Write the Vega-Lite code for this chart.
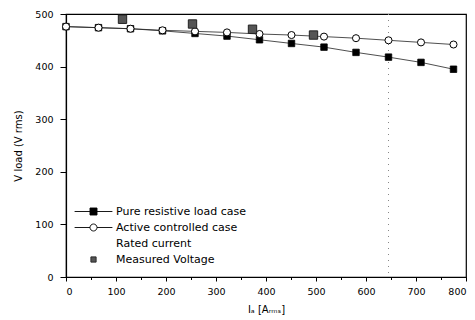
{
  "$schema": "https://vega.github.io/schema/vega-lite/v6.json",
  "width": 400,
  "height": 263,
  "autosize": "none",
  "padding": {"left": 66, "top": 14, "right": 9, "bottom": 43},
  "background": "white",
  "config": {
    "view": {"stroke": "black", "strokeWidth": 1.2},
    "font": "DejaVu Sans",
    "axis": {"grid": false, "domainColor": "black", "tickColor": "black", "labelColor": "black", "titleColor": "black", "labelFont": "DejaVu Sans", "titleFont": "DejaVu Sans", "labelFontSize": 9.5, "titleFontSize": 10, "titleFontWeight": "normal", "domainWidth": 1.2}
  },
  "data": {"values": [
    {"series": "Pure resistive load case", "Ia": 0, "V": 476},
    {"series": "Pure resistive load case", "Ia": 65, "V": 474},
    {"series": "Pure resistive load case", "Ia": 129, "V": 472},
    {"series": "Pure resistive load case", "Ia": 193, "V": 468},
    {"series": "Pure resistive load case", "Ia": 258, "V": 463},
    {"series": "Pure resistive load case", "Ia": 322, "V": 458},
    {"series": "Pure resistive load case", "Ia": 387, "V": 451},
    {"series": "Pure resistive load case", "Ia": 451, "V": 444},
    {"series": "Pure resistive load case", "Ia": 516, "V": 437},
    {"series": "Pure resistive load case", "Ia": 580, "V": 427},
    {"series": "Pure resistive load case", "Ia": 645, "V": 418},
    {"series": "Pure resistive load case", "Ia": 710, "V": 408},
    {"series": "Pure resistive load case", "Ia": 775, "V": 395},
    {"series": "Active controlled case", "Ia": 0, "V": 476},
    {"series": "Active controlled case", "Ia": 65, "V": 474},
    {"series": "Active controlled case", "Ia": 129, "V": 472},
    {"series": "Active controlled case", "Ia": 193, "V": 469},
    {"series": "Active controlled case", "Ia": 258, "V": 467},
    {"series": "Active controlled case", "Ia": 322, "V": 465},
    {"series": "Active controlled case", "Ia": 387, "V": 462},
    {"series": "Active controlled case", "Ia": 451, "V": 460},
    {"series": "Active controlled case", "Ia": 516, "V": 457},
    {"series": "Active controlled case", "Ia": 580, "V": 454},
    {"series": "Active controlled case", "Ia": 645, "V": 450},
    {"series": "Active controlled case", "Ia": 710, "V": 446},
    {"series": "Active controlled case", "Ia": 775, "V": 442},
    {"series": "Rated current", "Ia": 645},
    {"series": "Measured Voltage", "Ia": 113, "V": 490},
    {"series": "Measured Voltage", "Ia": 253, "V": 481},
    {"series": "Measured Voltage", "Ia": 373, "V": 471},
    {"series": "Measured Voltage", "Ia": 495, "V": 460}
  ]},
  "encoding": {
    "x": {"field": "Ia", "type": "quantitative", "scale": {"domain": [0, 800], "nice": false, "zero": false},
      "axis": {"values": [0,50,100,150,200,250,300,350,400,450,500,550,600,650,700,750,800],
        "labelExpr": "datum.value % 100 === 0 ? datum.label : ''",
        "tickSize": {"condition": {"test": "datum.value % 100 === 0", "value": 4}, "value": 2.5},
        "labelPadding": 5, "title": "Iₐ [Aᵣₘₛ]", "titlePadding": 9}}
  },
  "layer": [
    {
      "transform": [{"filter": "datum.series === 'Rated current'"}],
      "mark": {"type": "rule", "color": "#888", "strokeDash": [1, 5], "strokeWidth": 1},
      "encoding": {}
    },
    {
      "transform": [{"filter": "datum.series === 'Pure resistive load case' || datum.series === 'Active controlled case'"}],
      "mark": {"type": "line", "color": "#222", "strokeWidth": 0.8},
      "encoding": {
        "y": {"field": "V", "type": "quantitative", "scale": {"domain": [0, 500], "nice": false},
          "axis": {"values": [0,25,50,75,100,125,150,175,200,225,250,275,300,325,350,375,400,425,450,475,500],
            "labelExpr": "datum.value % 50 === 0 ? datum.label : ''",
            "tickSize": {"condition": {"test": "datum.value % 50 === 0", "value": 6}, "value": 3},
            "labelPadding": 7, "title": "V load (V rms)", "titlePadding": 11}},
        "detail": {"field": "series"}
      }
    },
    {
      "transform": [{"filter": "datum.series === 'Pure resistive load case'"}],
      "mark": {"type": "point", "shape": "square", "filled": true, "fill": "black", "stroke": "black", "strokeWidth": 0.8, "size": 42, "opacity": 1},
      "encoding": {"y": {"field": "V", "type": "quantitative"}}
    },
    {
      "transform": [{"filter": "datum.series === 'Active controlled case'"}],
      "mark": {"type": "point", "shape": "circle", "filled": true, "fill": "white", "stroke": "black", "strokeWidth": 1, "size": 50, "opacity": 1},
      "encoding": {"y": {"field": "V", "type": "quantitative"}}
    },
    {
      "transform": [{"filter": "datum.series === 'Measured Voltage'"}],
      "mark": {"type": "point", "shape": "square", "filled": true, "fill": "#555", "stroke": "#222", "strokeWidth": 1, "size": 70, "opacity": 1},
      "encoding": {"y": {"field": "V", "type": "quantitative"}}
    },
    {
      "mark": {"type": "point", "opacity": 0, "filled": true},
      "encoding": {
        "y": {"field": "V", "type": "quantitative"},
        "shape": {"field": "series", "type": "nominal",
          "scale": {"domain": ["Pure resistive load case", "Active controlled case", "Rated current", "Measured Voltage"],
            "range": ["M-5.4,0H-1M1,0H5.4M-1,-1H1V1H-1Z", "M-5.4,0H-1M1,0H5.4M-1,0A1,1 0 1,0 1,0A1,1 0 1,0 -1,0Z", "M-5.4,0H5.4", "M-0.75,-0.75H0.75V0.75H-0.75Z"]},
          "legend": {"title": null, "orient": "none", "legendX": 22, "legendY": 192, "padding": 0,
            "labelFont": "DejaVu Sans", "labelFontSize": 11, "labelColor": "black", "labelOffset": 17, "rowPadding": 4,
            "symbolSize": 49, "symbolOpacity": 1, "symbolStrokeWidth": 0.9}},
        "fill": {"field": "series", "type": "nominal",
          "scale": {"domain": ["Pure resistive load case", "Active controlled case", "Rated current", "Measured Voltage"], "range": ["black", "white", "transparent", "#555"]},
          "legend": {"title": null, "orient": "none", "legendX": 22, "legendY": 192, "padding": 0,
            "labelFont": "DejaVu Sans", "labelFontSize": 11, "labelColor": "black", "labelOffset": 17, "rowPadding": 4,
            "symbolSize": 49, "symbolOpacity": 1, "symbolStrokeWidth": 0.9}},
        "stroke": {"field": "series", "type": "nominal",
          "scale": {"domain": ["Pure resistive load case", "Active controlled case", "Rated current", "Measured Voltage"], "range": ["black", "black", "transparent", "#222"]},
          "legend": {"title": null, "orient": "none", "legendX": 22, "legendY": 192, "padding": 0,
            "labelFont": "DejaVu Sans", "labelFontSize": 11, "labelColor": "black", "labelOffset": 17, "rowPadding": 4,
            "symbolSize": 49, "symbolOpacity": 1, "symbolStrokeWidth": 0.9}}
      }
    }
  ]
}
